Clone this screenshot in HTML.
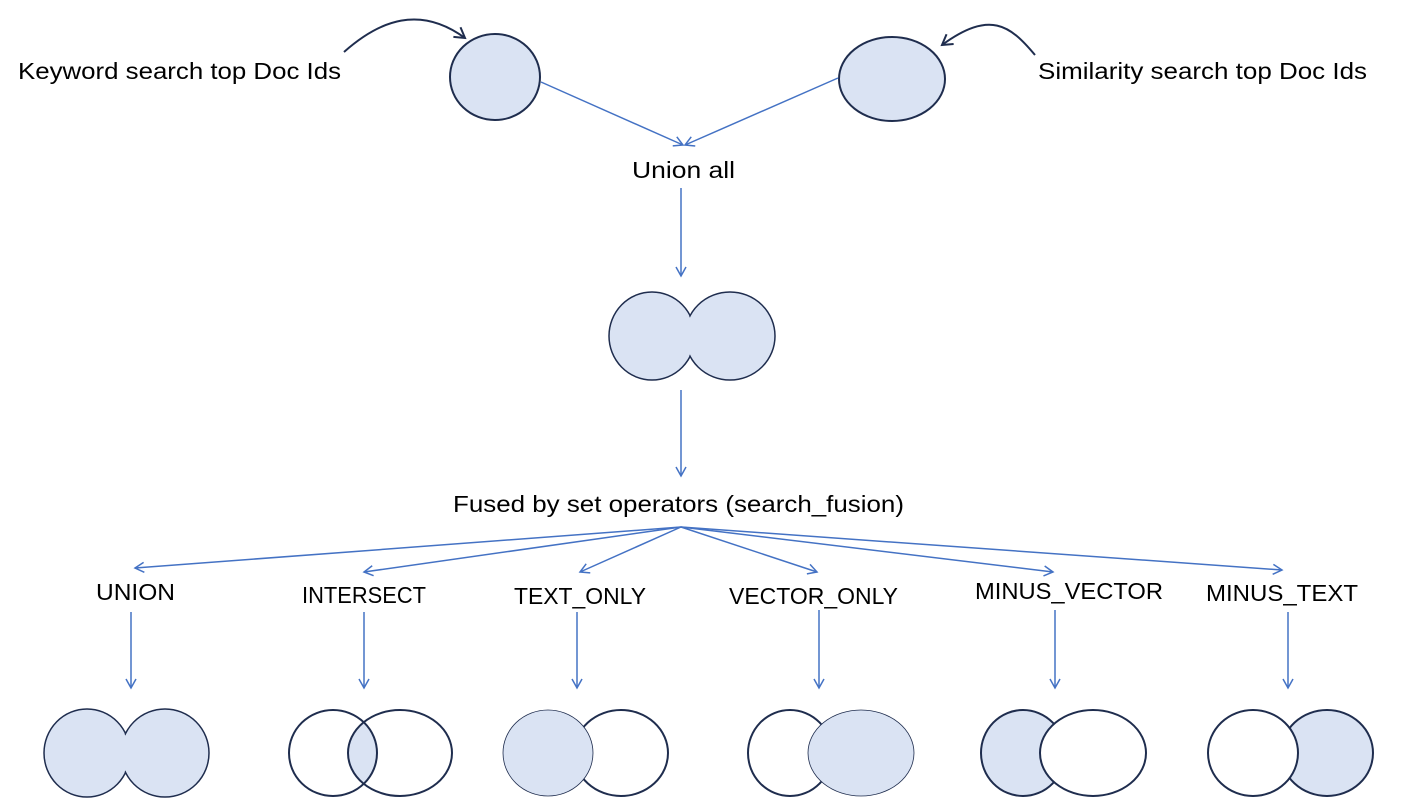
<!DOCTYPE html>
<html><head><meta charset="utf-8"><style>
html,body{margin:0;padding:0;background:#fff;width:1411px;height:809px;overflow:hidden}
text{font-family:"Liberation Sans",sans-serif;font-size:23px;fill:#000}
</style></head><body>
<svg width="1411" height="809" viewBox="0 0 1411 809" xmlns="http://www.w3.org/2000/svg">
<defs>
<marker id="a" markerWidth="14" markerHeight="14" refX="10" refY="6" orient="auto" markerUnits="userSpaceOnUse">
<path d="M1,1 L10,6 L1,11" fill="none" stroke="#4472C4" stroke-width="1.5"/></marker>
<marker id="d" markerWidth="16" markerHeight="16" refX="11" refY="7" orient="auto" markerUnits="userSpaceOnUse">
<path d="M1,1 L11,7 L1,13" fill="none" stroke="#1F2D4E" stroke-width="2"/></marker>
<clipPath id="c2"><ellipse cx="400" cy="753" rx="52" ry="43"/></clipPath>
</defs>
<g stroke="#1F2D4E" stroke-width="2" fill="#DAE3F3">
<ellipse cx="495" cy="77" rx="45" ry="43"/>
<ellipse cx="892" cy="79" rx="53" ry="42"/>
</g>
<path d="M344,52 C380,20 420,5 465,38" fill="none" stroke="#1F2D4E" stroke-width="2" marker-end="url(#d)"/>
<path d="M1035,55 C1010,25 990,10 942,45" fill="none" stroke="#1F2D4E" stroke-width="2" marker-end="url(#d)"/>
<text x="18" y="79" textLength="323" lengthAdjust="spacingAndGlyphs">Keyword search top Doc Ids</text>
<text x="1038" y="79" textLength="329" lengthAdjust="spacingAndGlyphs">Similarity search top Doc Ids</text>
<g stroke="#4472C4" stroke-width="1.5" fill="none" marker-end="url(#a)">
<line x1="541" y1="82" x2="683" y2="145"/>
<line x1="838" y1="78" x2="685" y2="145"/>
<line x1="681" y1="188" x2="681" y2="276"/>
<line x1="681" y1="390" x2="681" y2="476"/>
<line x1="681" y1="527" x2="135" y2="568"/>
<line x1="681" y1="527" x2="364" y2="572"/>
<line x1="681" y1="527" x2="580" y2="572"/>
<line x1="681" y1="527" x2="817" y2="572"/>
<line x1="681" y1="527" x2="1053" y2="572"/>
<line x1="681" y1="527" x2="1282" y2="570"/>
<line x1="131" y1="612" x2="131" y2="688"/>
<line x1="364" y1="612" x2="364" y2="688"/>
<line x1="577" y1="612" x2="577" y2="688"/>
<line x1="819" y1="610" x2="819" y2="688"/>
<line x1="1055" y1="610" x2="1055" y2="688"/>
<line x1="1288" y1="612" x2="1288" y2="688"/>
</g>
<text x="632" y="178" textLength="103" lengthAdjust="spacingAndGlyphs">Union all</text>
<text x="453" y="512" textLength="451" lengthAdjust="spacingAndGlyphs">Fused by set operators (search_fusion)</text>
<text x="96" y="600" textLength="79" lengthAdjust="spacingAndGlyphs">UNION</text>
<text x="302" y="603" textLength="124" lengthAdjust="spacingAndGlyphs">INTERSECT</text>
<text x="514" y="604" textLength="132" lengthAdjust="spacingAndGlyphs">TEXT_ONLY</text>
<text x="729" y="604" textLength="169" lengthAdjust="spacingAndGlyphs">VECTOR_ONLY</text>
<text x="975" y="599" textLength="188" lengthAdjust="spacingAndGlyphs">MINUS_VECTOR</text>
<text x="1206" y="601" textLength="152" lengthAdjust="spacingAndGlyphs">MINUS_TEXT</text>
<g fill="#DAE3F3">
<ellipse cx="652" cy="336" rx="43" ry="44" stroke="#1F2D4E" stroke-width="1.5"/>
<ellipse cx="730" cy="336" rx="45" ry="44" stroke="#1F2D4E" stroke-width="1.5"/>
<ellipse cx="652" cy="336" rx="42" ry="43" stroke="none"/>
<ellipse cx="730" cy="336" rx="44" ry="43" stroke="none"/>
<ellipse cx="87" cy="753" rx="43" ry="44" stroke="#1F2D4E" stroke-width="1.5"/>
<ellipse cx="165" cy="753" rx="44" ry="44" stroke="#1F2D4E" stroke-width="1.5"/>
<ellipse cx="87" cy="753" rx="42" ry="43" stroke="none"/>
<ellipse cx="165" cy="753" rx="43" ry="43" stroke="none"/>
</g>
<ellipse cx="333" cy="753" rx="44" ry="43" fill="#DAE3F3" clip-path="url(#c2)"/>
<g fill="none" stroke="#1F2D4E" stroke-width="2">
<ellipse cx="333" cy="753" rx="44" ry="43"/>
<ellipse cx="400" cy="753" rx="52" ry="43"/>
</g>
<ellipse cx="621" cy="753" rx="47" ry="43" fill="none" stroke="#1F2D4E" stroke-width="2"/>
<ellipse cx="548" cy="753" rx="45" ry="43" fill="#DAE3F3" stroke="#1F2D4E" stroke-width="0.8"/>
<ellipse cx="790" cy="753" rx="42" ry="43" fill="none" stroke="#1F2D4E" stroke-width="2"/>
<ellipse cx="861" cy="753" rx="53" ry="43" fill="#DAE3F3" stroke="#1F2D4E" stroke-width="0.8"/>
<ellipse cx="1023" cy="753" rx="42" ry="43" fill="#DAE3F3" stroke="#1F2D4E" stroke-width="2"/>
<ellipse cx="1093" cy="753" rx="53" ry="43" fill="#fff" stroke="#1F2D4E" stroke-width="2"/>
<ellipse cx="1327" cy="753" rx="46" ry="43" fill="#DAE3F3" stroke="#1F2D4E" stroke-width="2"/>
<ellipse cx="1253" cy="753" rx="45" ry="43" fill="#fff" stroke="#1F2D4E" stroke-width="2"/>
</svg>
</body></html>
